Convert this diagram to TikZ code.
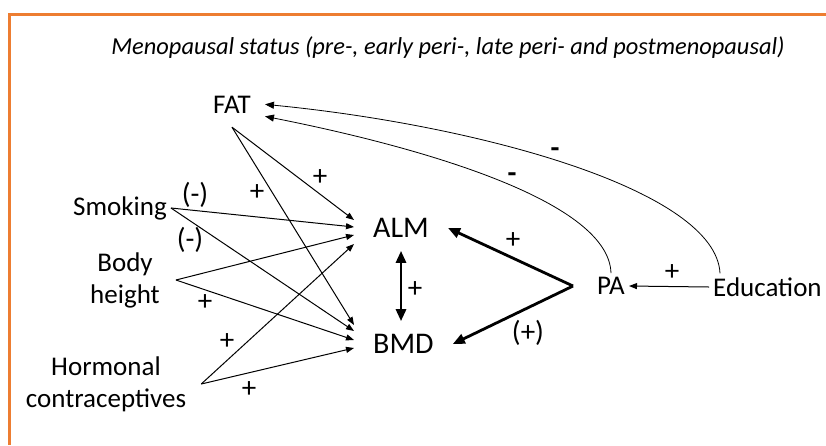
\documentclass[tikz,border=0pt]{standalone}
\usepackage{fontspec}
\setmainfont{Carlito}
\usetikzlibrary{arrows.meta, positioning}
\definecolor{frameorange}{RGB}{237,125,49}

\begin{document}
\begin{tikzpicture}[x=1pt, y=-1pt,
var/.style={font=\fontsize{27}{32}\selectfont, align=center, inner sep=4pt},
outcome/.style={font=\fontsize{30}{36}\selectfont, inner xsep=19pt, inner ysep=13pt},
sign/.style={font=\fontsize{29}{34}\selectfont, inner sep=0pt},
effect/.style={line width=1pt, -{Triangle[length=8pt,width=6pt]}},
strong/.style={line width=2.8pt, -{Triangle[length=12pt,width=10pt]}},
curved/.style={line width=0.8pt, -{Triangle[length=9pt,width=7pt]}}]

\useasboundingbox (0,0) rectangle (826,445);
\draw[frameorange, line width=3pt] (9,445) -- (9,14) -- (826,14);

\node[font=\fontsize{24.4}{29}\selectfont\itshape]   (title) at (448,48) {Menopausal status (pre-, early peri-, late peri- and postmenopausal)};

% exposures
\node[var, anchor=base, inner sep=14pt]   (FAT)  at (232,113) {FAT};
\node[var]                 (Smk)  at (120,208) {Smoking};
\node[var]                 (Hgt)  at (125,280) {Body\\height};
\node[var]                 (Hc)   at (106,384) {Hormonal\\contraceptives};
\node[var]                 (PA)   at (611,286) {PA};
\node[var, anchor=west]    (Edu)  at (709,287) {Education};

% outcomes
\node[outcome, anchor=west]  (ALM)  at (354,228) {ALM};
\node[outcome, anchor=west]  (BMD)  at (354,344) {BMD};

\path[effect]
 (FAT.south)                  edge   ([yshift=8pt]ALM.west)
 (FAT.south)                  edge   ([yshift=19pt]BMD.west)
 (Smk.east)                   edge   ([yshift=1pt]ALM.west)
 (Smk.east)                   edge   ([yshift=13pt]BMD.west)
 ([xshift=12pt]Hgt.east)      edge   ([yshift=-7pt]ALM.west)
 ([xshift=12pt]Hgt.east)      edge   ([yshift=4pt]BMD.west)
 ([xshift=11pt]Hc.east)       edge   ([yshift=-16pt]ALM.west)
 ([xshift=11pt]Hc.east)       edge   ([yshift=-4pt]BMD.west)
 (Edu.west)                   edge   (PA.east);

\draw[strong, {Triangle[length=12pt,width=10pt]}-{Triangle[length=12pt,width=10pt]}]
 (ALM.south) -- (ALM.south |- BMD.north);
\path[strong]
 ([xshift=-20pt]PA.west)      edge   (ALM.east)
 ([xshift=-20pt]PA.west)      edge   (BMD.east);

\draw[curved] (PA.north) .. controls +(-2,-70) and +(167,33) .. ([yshift=-12pt]FAT.east);
\draw[curved] ([xshift=11pt]Edu.north west) .. controls +(-4,-83) and +(215,21) .. (FAT.east);

% signs
\node[sign] (sSmkA)  at (195,195) {(-)};
\node[sign] (sSmkB)  at (190,240) {(-)};
\node[sign] (sFatB)  at (257,193) {+};
\node[sign] (sFatA)  at (320,178) {+};
\node[sign] (sHgt)   at (205,303) {+};
\node[sign] (sHcA)   at (227,342) {+};
\node[sign] (sHcB)   at (249,390) {+};
\node[sign] (sAB)    at (415,290) {+};
\node[sign] (sPaA)   at (513,241) {+};
\node[sign] (sPaB)   at (528,333) {(+)};
\node[sign] (sEdu)   at (672,273) {+};
\node[sign] (sPaF)   at (512,178) {\textbf{-}};
\node[sign] (sEduF)  at (555,153) {\textbf{-}};
\end{tikzpicture}
\end{document}
